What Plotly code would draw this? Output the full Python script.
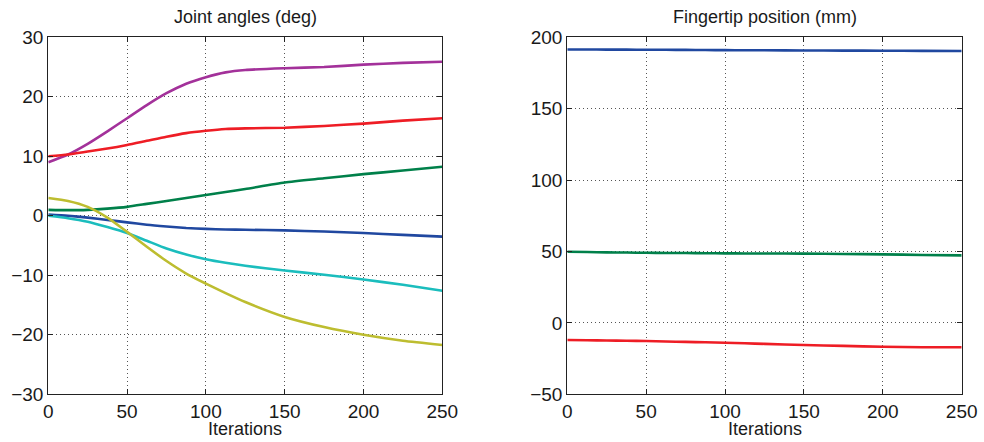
import plotly.graph_objects as go

# Iteration samples
iterations = [0, 12.5, 25, 37.5, 50, 62.5, 75, 87.5, 100, 112.5, 125, 150, 175, 200, 225, 250]

# Joint angles (deg)
joint_purple = [9.0, 10.3, 12.1, 14.2, 16.4, 18.6, 20.6, 22.2, 23.3, 24.1, 24.5, 24.8, 25.0, 25.4, 25.7, 25.9]
joint_red = [10.0, 10.3, 10.8, 11.3, 11.9, 12.6, 13.3, 13.9, 14.3, 14.6, 14.7, 14.8, 15.1, 15.5, 16.0, 16.4]
joint_green = [1.0, 0.95, 1.0, 1.2, 1.5, 2.0, 2.5, 3.0, 3.5, 4.0, 4.5, 5.6, 6.3, 7.0, 7.6, 8.25]
joint_blue = [0.2, 0.0, -0.3, -0.7, -1.1, -1.5, -1.8, -2.05, -2.2, -2.3, -2.35, -2.45, -2.65, -2.9, -3.2, -3.5]
joint_cyan = [0.0, -0.4, -1.0, -1.9, -2.9, -4.2, -5.5, -6.5, -7.3, -7.9, -8.4, -9.2, -9.9, -10.7, -11.6, -12.6]
joint_yellow = [3.0, 2.5, 1.5, -0.3, -2.7, -5.2, -7.6, -9.7, -11.4, -13.0, -14.5, -17.0, -18.7, -20.0, -21.0, -21.7]

# Fingertip position (mm)
tip_blue = [191.5, 191.45, 191.4, 191.35, 191.3, 191.25, 191.2, 191.1, 191.0, 190.95, 190.9, 190.8, 190.7, 190.6, 190.5, 190.4]
tip_green = [49.8, 49.6, 49.4, 49.25, 49.1, 49.0, 48.9, 48.8, 48.7, 48.65, 48.6, 48.5, 48.3, 48.0, 47.6, 47.3]
tip_red = [-12.0, -12.15, -12.3, -12.5, -12.7, -13.0, -13.3, -13.6, -13.9, -14.3, -14.7, -15.5, -16.1, -16.7, -17.0, -17.1]

joint_series = [
    (joint_purple, "#a3319a"),
    (joint_red, "#ee1d25"),
    (joint_green, "#00804a"),
    (joint_blue, "#2048a0"),
    (joint_cyan, "#1bbdbd"),
    (joint_yellow, "#bdbd30"),
]
tip_series = [
    (tip_blue, "#2048a0"),
    (tip_green, "#00804a"),
    (tip_red, "#ee1d25"),
]

W, H = 984, 442
left_px = (48.3, 442.3)
right_px = (567.3, 961.7)
top_px, bottom_px = 37.3, 394.3

fig = go.Figure()
for ys, c in joint_series:
    fig.add_trace(go.Scatter(x=iterations, y=ys, mode="lines",
                             line=dict(color=c, width=2.6, shape="spline", smoothing=0.6),
                             xaxis="x", yaxis="y", showlegend=False))
for ys, c in tip_series:
    fig.add_trace(go.Scatter(x=iterations, y=ys, mode="lines",
                             line=dict(color=c, width=2.6, shape="spline", smoothing=0.6),
                             xaxis="x2", yaxis="y2", showlegend=False))

font_family = "Liberation Sans, Arial, sans-serif"
ydom = [1 - bottom_px / H, 1 - top_px / H]

def axis_style(**kw):
    d = dict(showgrid=True, gridcolor="#555555", griddash="1px,3px", gridwidth=1,
             showline=True, linecolor="#222222", linewidth=1.2, mirror="ticks",
             ticks="inside", ticklen=5, tickwidth=1, tickcolor="#222222",
             zeroline=False, automargin=False,
             tickfont=dict(family=font_family, size=19, color="#1a1a1a"),
             fixedrange=True)
    d.update(kw)
    return d

fig.update_layout(
    width=W, height=H,
    margin=dict(l=0, r=0, t=0, b=0, pad=0),
    paper_bgcolor="white", plot_bgcolor="white",
    xaxis=axis_style(domain=[left_px[0] / W, left_px[1] / W], range=[0, 250],
                     tickvals=[0, 50, 100, 150, 200, 250], anchor="y"),
    yaxis=axis_style(domain=ydom, range=[-30, 30],
                     tickvals=[-30, -20, -10, 0, 10, 20, 30],
                     ticktext=["\u221230", "\u221220", "\u221210", "0", "10", "20", "30"], anchor="x"),
    xaxis2=axis_style(domain=[right_px[0] / W, right_px[1] / W], range=[0, 250],
                      tickvals=[0, 50, 100, 150, 200, 250], anchor="y2"),
    yaxis2=axis_style(domain=ydom, range=[-50, 200],
                      tickvals=[-50, 0, 50, 100, 150, 200],
                      ticktext=["\u221250", "0", "50", "100", "150", "200"], anchor="x2"),
)

ann_font = dict(family=font_family, size=18, color="#1a1a1a")
for (x0, x1), title in [(left_px, "Joint angles (deg)"), (right_px, "Fingertip position (mm)")]:
    cx = (x0 + x1) / 2 / W
    fig.add_annotation(x=cx, y=1 - 17 / H, xref="paper", yref="paper", text=title,
                       showarrow=False, font=ann_font, xanchor="center", yanchor="middle")
    fig.add_annotation(x=cx, y=1 - 429 / H, xref="paper", yref="paper", text="Iterations",
                       showarrow=False, font=ann_font, xanchor="center", yanchor="middle")

fig.write_html("out.html")
